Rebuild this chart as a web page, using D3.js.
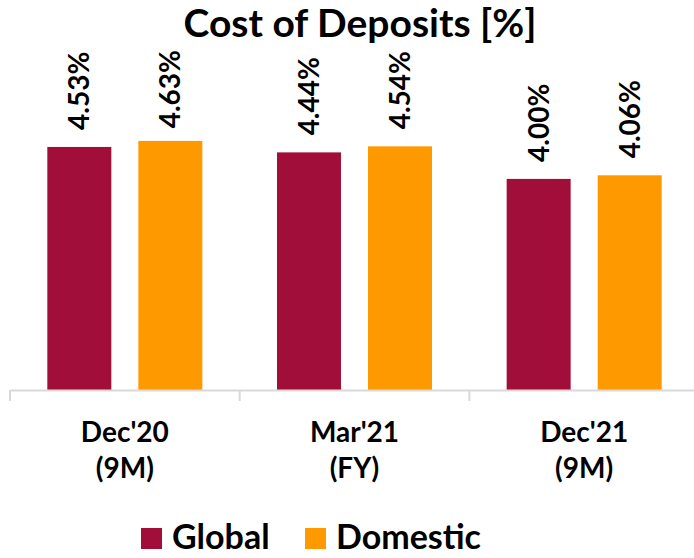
<!DOCTYPE html>
<html>
<head>
<meta charset="utf-8">
<script src="https://cdn.jsdelivr.net/npm/d3@7"></script>
<style>
  body { margin: 0; background: #fff; }
  text { font-family: Lato, "Open Sans", sans-serif; font-weight: bold; fill: #000; }
</style>
</head>
<body>
<div id="chart"></div>
<script>
var categories = ["Dec'20|(9M)", "Mar'21|(FY)", "Dec'21|(9M)"];
var series = ['Global', 'Domestic'];
var globalValues = [4.53, 4.44, 4.00];
var domesticValues = [4.63, 4.54, 4.06];
var colors = ['#a20e3a', '#ff9900'];

var width = 694,
  height = 558,
  baseY = 390;

var svg = d3.select('#chart').append('svg')
  .attr('width', width)
  .attr('height', height);

var rows = categories.map(function(c, i) {
  return { cat: c, values: [globalValues[i], domesticValues[i]] };
});

var x0 = d3.scaleBand()
  .domain(categories)
  .range([10, 699]);

var x1 = d3.scaleBand()
  .domain(series)
  .range([0, x0.bandwidth()])
  .paddingInner(0.297)
  .paddingOuter(0.41);

// axis bottom sits at 0.5 in the original
var y = d3.scaleLinear()
  .domain([0.5, 5])
  .range([baseY, baseY - 271.4]);

// title
svg.append('text')
  .attr('x', 360)
  .attr('y', 37)
  .attr('text-anchor', 'middle')
  .style('font-size', '39px')
  .text('Cost of Deposits [%]');

var groups = svg.selectAll('g.cat')
  .data(rows)
  .enter().append('g')
  .attr('class', 'cat')
  .attr('transform', function(d) { return 'translate(' + x0(d.cat) + ',0)'; });

groups.selectAll('rect')
  .data(function(d) { return d.values.map(function(v, i) { return { s: series[i], v: v, i: i }; }); })
  .enter().append('rect')
  .attr('x', function(d) { return x1(d.s); })
  .attr('y', function(d) { return y(d.v); })
  .attr('width', x1.bandwidth())
  .attr('height', function(d) { return baseY - y(d.v); })
  .attr('fill', function(d) { return colors[d.i]; });

// value labels, pushed down a bit when they would run into the title
groups.selectAll('text.val')
  .data(function(d) { return d.values.map(function(v, i) { return { s: series[i], v: v }; }); })
  .enter().append('text')
  .attr('class', 'val')
  .style('font-size', '28px')
  .text(function(d) { return d.v.toFixed(2) + '%'; })
  .attr('transform', function(d) {
    var cx = x1(d.s) + x1.bandwidth() / 2 + 10;
    var len = this.getComputedTextLength();
    var yEnd = Math.max(y(d.v) - 17, 50 + len);
    return 'translate(' + cx + ',' + yEnd + ') rotate(-90)';
  });

// x axis
var axis = svg.append('g')
  .attr('transform', 'translate(0,' + baseY + ')')
  .call(d3.axisBottom(x0).tickValues([]).tickSizeOuter(0));
axis.select('.domain').attr('stroke', '#d9d9d9').attr('stroke-width', 2);

axis.selectAll('line.sep')
  .data(categories)
  .enter().append('line')
  .attr('class', 'sep')
  .attr('x1', function(d) { return x0(d); })
  .attr('x2', function(d) { return x0(d); })
  .attr('y1', 0)
  .attr('y2', 11)
  .attr('stroke', '#d9d9d9')
  .attr('stroke-width', 2);

groups.each(function(d) {
  var lines = d.cat.split('|');
  var t = d3.select(this).append('text')
    .attr('text-anchor', 'middle')
    .style('font-size', '28px');
  lines.forEach(function(l, j) {
    t.append('tspan')
      .attr('x', x0.bandwidth() / 2)
      .attr('y', 442 + j * 36)
      .text(l);
  });
});

// legend
var legend = svg.append('g').attr('transform', 'translate(141,528)');
var item = legend.selectAll('g')
  .data(series)
  .enter().append('g')
  .attr('transform', function(d, i) { return 'translate(' + (i * 164) + ',0)'; });
item.append('rect')
  .attr('width', 21)
  .attr('height', 21)
  .attr('fill', function(d, i) { return colors[i]; });
item.append('text')
  .attr('x', 31)
  .attr('y', 21)
  .style('font-size', '34px')
  .text(function(d) { return d; });
</script>
</body>
</html>
